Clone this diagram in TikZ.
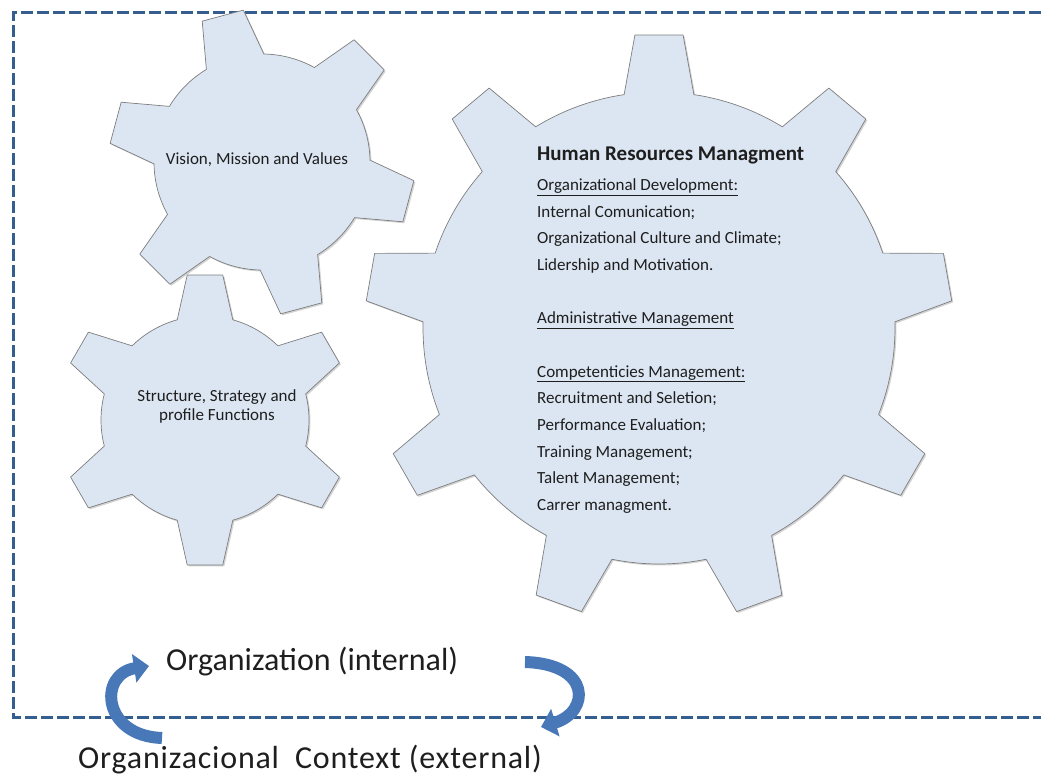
\documentclass[tikz,border=0pt]{standalone}
\usepackage{fontspec}
\setmainfont{Carlito}
\usetikzlibrary{arrows.meta,shadows}
\definecolor{gearblue}{RGB}{220,230,242}
\definecolor{gearline}{RGB}{125,125,125}
\definecolor{frameblue}{RGB}{54,93,143}
\definecolor{arrowblue}{RGB}{72,120,184}
\definecolor{txt}{RGB}{30,30,30}

\newcommand{\gear}[7]{%
  \path[gear] ([shift={(#1)}]{#5-#6}:#2)
  \foreach \k [evaluate=\k as \a using #5+(\k-1)*360/#4] in {1,...,#4} {
    -- ([shift={(#1)}]{\a-#7}:#3) -- ([shift={(#1)}]{\a+#7}:#3)
    -- ([shift={(#1)}]{\a+#6}:#2)
    arc[start angle=\a+#6, end angle=\a+360/#4-#6, radius=#2]
  } -- cycle;
}

\begin{document}
\begin{tikzpicture}[x=1pt,y=1pt,
  gear/.style={fill=gearblue,draw=gearline,line width=0.7pt,line join=round,
    drop shadow={shadow xshift=1.5pt,shadow yshift=-1.5pt,opacity=0.35}},
  geartext/.style={font=\fontsize{17}{19}\selectfont,align=center,text=txt,inner sep=0pt},
  item/.style={font=\fontsize{17}{20}\selectfont,anchor=base west,inner sep=0pt,text=txt},
  frame/.style={draw=frameblue,line width=3pt,dash pattern=on 12pt off 4pt},
  turnarrow/.style={draw=arrowblue,line width=12pt,-{Triangle[length=15pt,width=28pt]}},
  side/.style={font=\fontsize{32}{36}\selectfont,anchor=base west,inner sep=0pt,text=txt}]
\useasboundingbox (0,0) rectangle (1041,-775);

\draw[frame] (1041,-13) -- (13,-13) -- (13,-717) -- (1041,-717);

\coordinate (vmv) at (262,-162);
\coordinate (ssp) at (205,-420);
\coordinate (hrm) at (659,-328);
\gear{vmv}{108}{153}{6}{45}{16}{8}
\gear{ssp}{104}{146}{6}{30}{15.5}{7}
\gear{hrm}{236}{294}{9}{90}{8.5}{4.7}

\node[geartext] (vision) at (257,-160) {Vision, Mission and Values};
\node[geartext] (structure) at (217,-406) {Structure, Strategy and\\profile Functions};

\node[item,font=\bfseries\fontsize{21}{24}\selectfont] (title) at (537,-161) {Human Resources Managment};
\foreach \k/\t in {0/\underline{Organizational Development:},1/Internal Comunication;,
  2/Organizational Culture and Climate;,3/Lidership and Motivation.,
  5/\underline{Administrative Management},7/\underline{Competenticies Management:},
  8/Recruitment and Seletion;,9/Performance Evaluation;,10/Training Management;,
  11/Talent Management;,12/Carrer managment.}
  \node[item] (item\k) at (537,{-190.5-26.67*\k}) {\t};

\node[side] (inside) at (166,-670) {Organization (internal)};
\node[side] (outside) at (78,-768) {\addfontfeature{LetterSpace=2.5}Organizacional\ \ Context (external)};

\coordinate (lefttail) at (162,-738);
\coordinate (lefthead) at (149,-666);
\coordinate (righttail) at (525,-662);
\coordinate (righthead) at (541,-727);
\draw[turnarrow] (lefttail) .. controls (102,-736) and (98,-674) .. (lefthead);
\draw[turnarrow] (righttail) .. controls (592,-664) and (590,-712) .. (righthead);
\end{tikzpicture}
\end{document}
